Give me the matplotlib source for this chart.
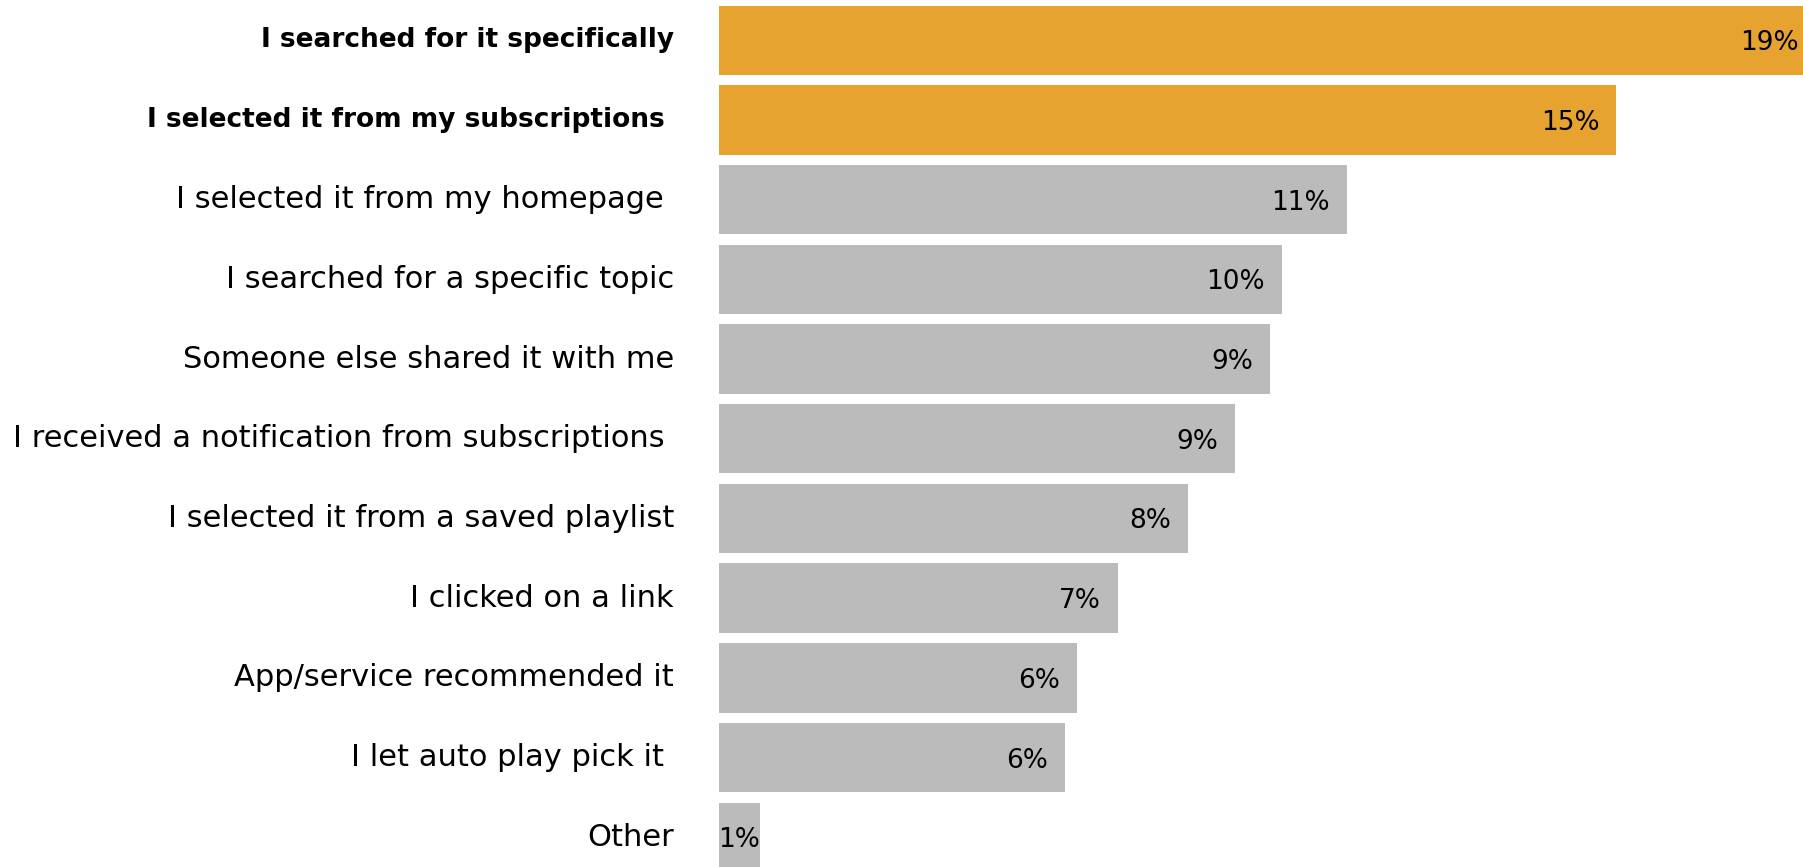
import matplotlib.pyplot as plt

plt.rcParams['font.family'] = ['DejaVu Sans']

# answers, top to bottom
categories = [
    'I searched for it specifically',
    'I selected it from my subscriptions ',
    'I selected it from my homepage ',
    'I searched for a specific topic',
    'Someone else shared it with me',
    'I received a notification from subscriptions ',
    'I selected it from a saved playlist',
    'I clicked on a link',
    'App/service recommended it',
    'I let auto play pick it ',
    'Other',
]
shares = [18.7, 15.3, 10.7, 9.6, 9.4, 8.8, 8.0, 6.8, 6.1, 5.9, 0.7]
highlight = [True, True, False, False, False, False, False, False, False, False, False]

ORANGE = '#E7A32F'
GREY = '#BBBBBB'


def draw():
    fig = plt.figure(figsize=(18.03, 8.67), dpi=100)
    ax = fig.add_axes([719 / 1803, 0, 1 - 719 / 1803, 1])

    ypos = list(range(len(categories)))
    colors = [ORANGE if h else GREY for h in highlight]
    ax.barh(ypos, shares, height=0.87, color=colors)

    ax.set_xlim(0, 18.48)
    ax.set_ylim(10.373, -0.505)
    ax.axis('off')

    for y, name, v, h in zip(ypos, categories, shares, highlight):
        ax.annotate(name, xy=(0, y), xytext=(-45, 0), textcoords='offset pixels',
                    ha='right', va='center',
                    fontsize=19 if h else 22,
                    fontweight='bold' if h else 'normal')
        # short bars get the label flush with the bar end
        pad = -17 if v >= 2 else 0
        ax.annotate(f'{v:.0f}%', xy=(v, y), xytext=(pad, -3), textcoords='offset pixels',
                    ha='right', va='center', fontsize=19, annotation_clip=False)

    fig.savefig('out.png', dpi=100)


if __name__ == '__main__':
    draw()
